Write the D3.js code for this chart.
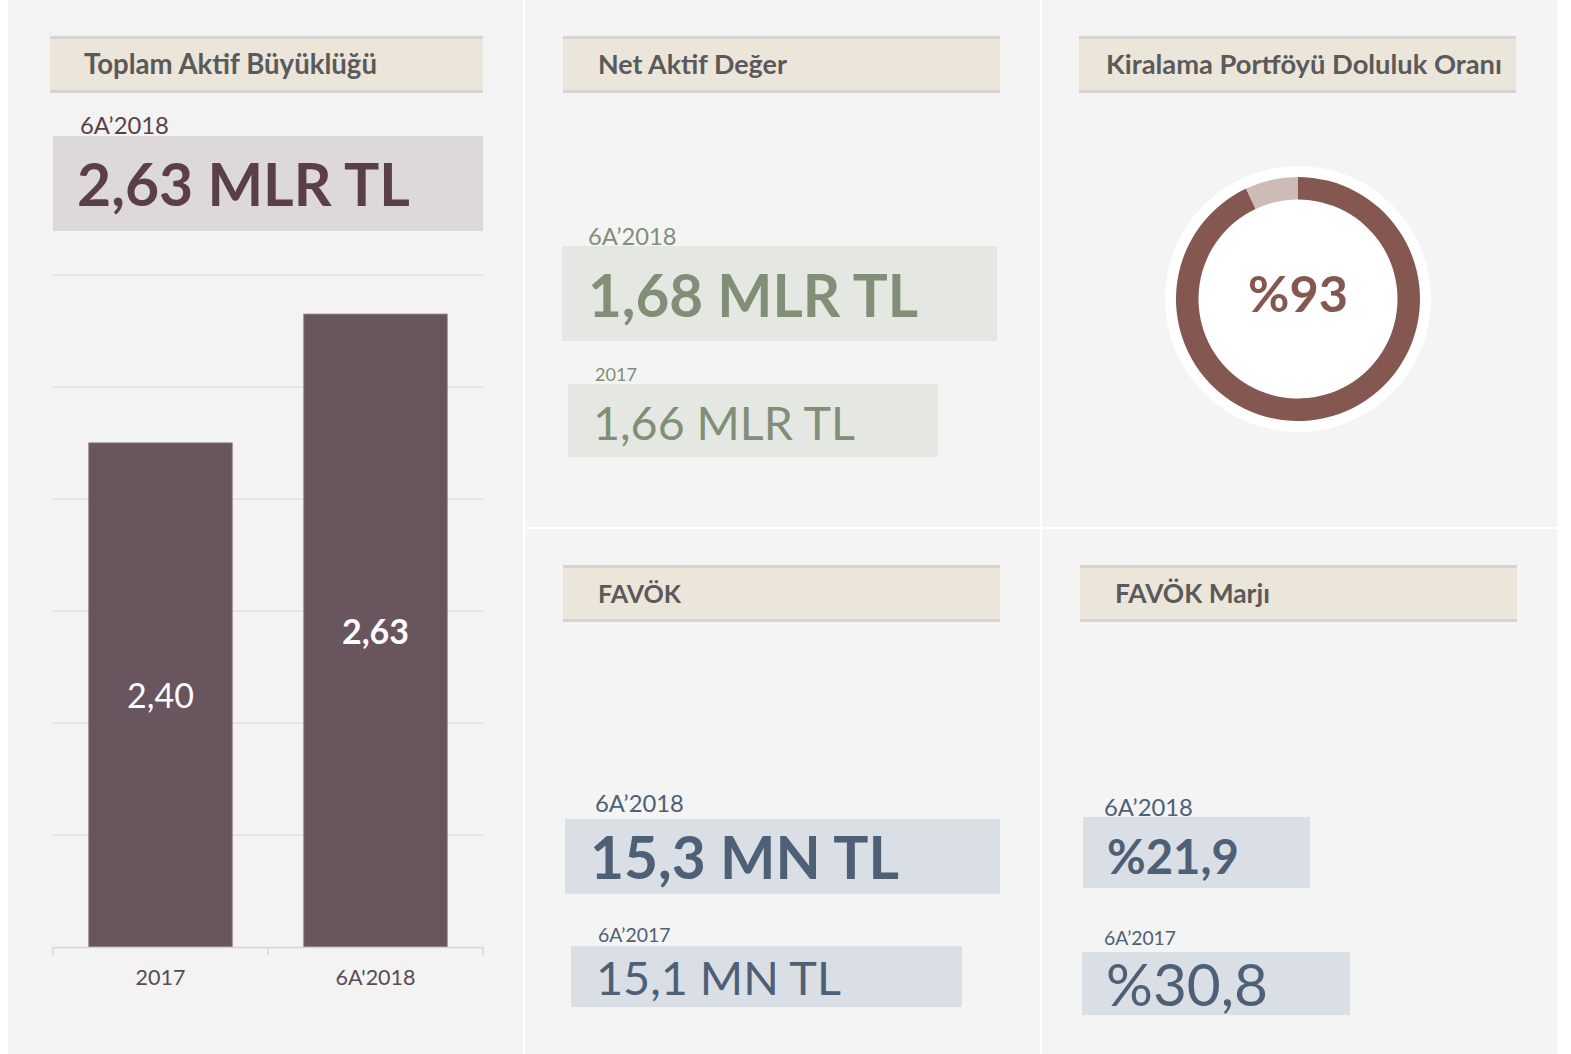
<!DOCTYPE html>
<html>
<head>
<meta charset="utf-8">
<script src="https://cdn.jsdelivr.net/npm/d3@7"></script>
<style>
  body { margin: 0; background: #ffffff; }
  svg { display: block; font-family: Lato, "Open Sans", sans-serif; }
</style>
</head>
<body>
<div id="dash"></div>
<script>
// ---- data ----
var panelTitles = ["Toplam Aktif Büyüklüğü", "Net Aktif Değer", "Kiralama Portföyü Doluluk Oranı", "FAVÖK", "FAVÖK Marjı"];

var assetPeriod = "6A’2018";
var assetValue = "2,63 MLR TL";

var barCategories = ["2017", "6A'2018"];
var barValues = [2.40, 2.63];
var barLabels = ["2,40", "2,63"];
var yTicks = [1.5, 1.7, 1.9, 2.1, 2.3, 2.5, 2.7];

var navPeriods = ["6A’2018", "2017"];
var navValues = ["1,68 MLR TL", "1,66 MLR TL"];

var occupancy = [93, 7];
var occupancyLabel = "%93";

var ebitdaPeriods = ["6A’2018", "6A’2017"];
var ebitdaValues = ["15,3 MN TL", "15,1 MN TL"];

var marginPeriods = ["6A’2018", "6A’2017"];
var marginValues = ["%21,9", "%30,8"];

// ---- canvas ----
var W = 1571, H = 1054;
var svg = d3.select("#dash").append("svg").attr("width", W).attr("height", H);
svg.append("rect").attr("width", W).attr("height", H).attr("fill", "#ffffff");

// scale a text's font size so it spans the width of the original lettering
function fit(t, width) {
  var size = parseFloat(t.style("font-size"));
  var len = t.node().getComputedTextLength();
  t.style("font-size", (size * width / len) + "px");
  return t;
}

// panels
var panels = [
  { x: 8, y: 0, w: 515, h: 1054, fill: "#f3f3f3" },
  { x: 525, y: 0, w: 515, h: 527, fill: "#f4f4f4" },
  { x: 1042, y: 0, w: 515, h: 527, fill: "#f4f4f4" },
  { x: 525, y: 529, w: 515, h: 525, fill: "#f4f4f4" },
  { x: 1042, y: 529, w: 515, h: 525, fill: "#f4f4f4" }
];
svg.selectAll("rect.panel").data(panels).enter().append("rect")
  .attr("class", "panel")
  .attr("x", function(d) { return d.x; })
  .attr("y", function(d) { return d.y; })
  .attr("width", function(d) { return d.w; })
  .attr("height", function(d) { return d.h; })
  .attr("fill", function(d) { return d.fill; });

// headers
var headers = [
  { x: 50, y: 36, w: 433, tx: 84, tw: 293 },
  { x: 563, y: 36, w: 437, tx: 598, tw: 189 },
  { x: 1079, y: 36, w: 437, tx: 1106, tw: 396 },
  { x: 563, y: 565, w: 437, tx: 598, tw: 83 },
  { x: 1080, y: 565, w: 437, tx: 1115, tw: 155 }
];
headers.forEach(function(h, i) {
  var g = svg.append("g").attr("transform", "translate(" + h.x + "," + h.y + ")");
  g.append("rect").attr("width", h.w).attr("height", 57).attr("fill", "#ece5da");
  g.append("rect").attr("width", h.w).attr("height", 3).attr("fill", "#d7d3d4");
  g.append("rect").attr("y", 54).attr("width", h.w).attr("height", 3).attr("fill", "#d7d3d4");
  var t = g.append("text")
    .attr("x", h.tx - h.x)
    .attr("y", 37.5)
    .attr("fill", "#5a5a5a")
    .style("font-size", "25px")
    .style("font-weight", "bold")
    .text(panelTitles[i]);
  fit(t, h.tw);
});

// value boxes helper
function valueBox(o) {
  svg.append("rect")
    .attr("x", o.bx).attr("y", o.by).attr("width", o.bw).attr("height", o.bh)
    .attr("fill", o.boxFill);
  var l = svg.append("text")
    .attr("x", o.lx).attr("y", o.ly)
    .attr("fill", o.color)
    .style("font-size", "22px")
    .text(o.label);
  fit(l, o.lw);
  var t = svg.append("text")
    .attr("x", o.vx).attr("y", o.vy)
    .attr("fill", o.color)
    .style("font-size", "50px")
    .style("font-weight", o.bold ? "bold" : "normal")
    .text(o.value);
  fit(t, o.vw);
}

// panel 1: total assets
valueBox({ bx: 53, by: 136, bw: 430, bh: 95, boxFill: "#ddd8da", color: "#5a3f4a",
  lx: 80, ly: 133.5, lw: 89, label: assetPeriod,
  vx: 77, vy: 205.5, vw: 333, bold: true, value: assetValue });

// bar chart
var chart = { left: 53, right: 483, top: 275, bottom: 947 };
var x = d3.scaleBand()
  .domain(barCategories)
  .range([chart.left, chart.right])
  .paddingInner(0.334)
  .paddingOuter(0.167);
var y = d3.scaleLinear()
  .domain([yTicks[0], yTicks[yTicks.length - 1]])
  .range([chart.bottom, chart.top]);

svg.append("g")
  .selectAll("line")
  .data(yTicks.slice(1))
  .enter().append("line")
  .attr("x1", chart.left).attr("x2", chart.right)
  .attr("y1", function(d) { return y(d); })
  .attr("y2", function(d) { return y(d); })
  .attr("stroke", "#e4dde0")
  .attr("stroke-width", 1.5);

svg.selectAll("rect.bar")
  .data(barValues)
  .enter().append("rect")
  .attr("class", "bar")
  .attr("x", function(d, i) { return x(barCategories[i]); })
  .attr("y", function(d) { return y(d); })
  .attr("width", x.bandwidth())
  .attr("height", function(d) { return chart.bottom - y(d); })
  .attr("fill", "#69555e")
  .attr("stroke", "#7d6b73")
  .attr("stroke-width", 1);

// x axis: category boundaries like a spreadsheet chart
var step = x.step();
var bounds = [chart.left, chart.left + step, chart.right];
svg.append("line")
  .attr("x1", chart.left).attr("x2", chart.right)
  .attr("y1", chart.bottom + 0.5).attr("y2", chart.bottom + 0.5)
  .attr("stroke", "#dcd4d8").attr("stroke-width", 1.5);
svg.selectAll("line.tick")
  .data(bounds)
  .enter().append("line")
  .attr("class", "tick")
  .attr("x1", function(d) { return d; }).attr("x2", function(d) { return d; })
  .attr("y1", chart.bottom).attr("y2", chart.bottom + 8)
  .attr("stroke", "#dcd4d8").attr("stroke-width", 1.5);
svg.selectAll("text.cat")
  .data(barCategories)
  .enter().append("text")
  .attr("class", "cat")
  .attr("x", function(d) { return x(d) + x.bandwidth() / 2; })
  .attr("y", 985)
  .attr("text-anchor", "middle")
  .attr("fill", "#5b4a52")
  .style("font-size", "21.5px")
  .text(function(d) { return d; });

svg.selectAll("text.barlabel")
  .data(barValues)
  .enter().append("text")
  .attr("class", "barlabel")
  .attr("x", function(d, i) { return x(barCategories[i]) + x.bandwidth() / 2; })
  .attr("y", function(d) { return (y(d) + chart.bottom) / 2 + 13; })
  .attr("text-anchor", "middle")
  .attr("fill", "#ffffff")
  .style("font-size", "34px")
  .style("font-weight", function(d, i) { return i === 1 ? "bold" : "normal"; })
  .text(function(d, i) { return barLabels[i]; });

// panel 2: net asset value
valueBox({ bx: 562, by: 246, bw: 435, bh: 95, boxFill: "#e5e8e2", color: "#808f75",
  lx: 588, ly: 245, lw: 88.5, label: navPeriods[0],
  vx: 588, vy: 317, vw: 330, bold: true, value: navValues[0] });
valueBox({ bx: 568, by: 384, bw: 370, bh: 73, boxFill: "#e5e8e2", color: "#808f75",
  lx: 595, ly: 381, lw: 42, label: navPeriods[1],
  vx: 593, vy: 440, vw: 262, bold: false, value: navValues[1] });

// panel 3: occupancy donut
var donut = { cx: 1298, cy: 299 };
var dg = svg.append("g").attr("transform", "translate(" + donut.cx + "," + donut.cy + ")");
dg.append("circle").attr("r", 133).attr("fill", "#ffffff");
var pie = d3.pie().sort(null).value(function(d) { return d; });
var arc = d3.arc().innerRadius(99.5).outerRadius(122);
dg.selectAll("path")
  .data(pie(occupancy))
  .enter().append("path")
  .attr("d", arc)
  .attr("fill", function(d, i) { return i === 0 ? "#845850" : "#cdbbb8"; });
var pct = dg.append("text")
  .attr("y", 13)
  .attr("text-anchor", "middle")
  .attr("fill", "#845850")
  .style("font-size", "50px")
  .style("font-weight", "bold")
  .text(occupancyLabel);
fit(pct, 100);

// panel 4: EBITDA
valueBox({ bx: 565, by: 819, bw: 435, bh: 75, boxFill: "#dadee5", color: "#4d6076",
  lx: 595, ly: 812, lw: 89, label: ebitdaPeriods[0],
  vx: 590, vy: 879, vw: 309, bold: true, value: ebitdaValues[0] });
valueBox({ bx: 571, by: 946, bw: 391, bh: 61, boxFill: "#dadee5", color: "#4d6076",
  lx: 598, ly: 942, lw: 72.5, label: ebitdaPeriods[1],
  vx: 596, vy: 995, vw: 245, bold: false, value: ebitdaValues[1] });

// panel 5: EBITDA margin
valueBox({ bx: 1083, by: 817, bw: 227, bh: 71, boxFill: "#dadee5", color: "#4d6076",
  lx: 1104, ly: 816, lw: 89, label: marginPeriods[0],
  vx: 1107, vy: 874, vw: 132, bold: true, value: marginValues[0] });
valueBox({ bx: 1082, by: 952, bw: 268, bh: 63, boxFill: "#dadee5", color: "#4d6076",
  lx: 1104, ly: 945, lw: 72, label: marginPeriods[1],
  vx: 1106, vy: 1006, vw: 162, bold: false, value: marginValues[1] });
</script>
</body>
</html>
